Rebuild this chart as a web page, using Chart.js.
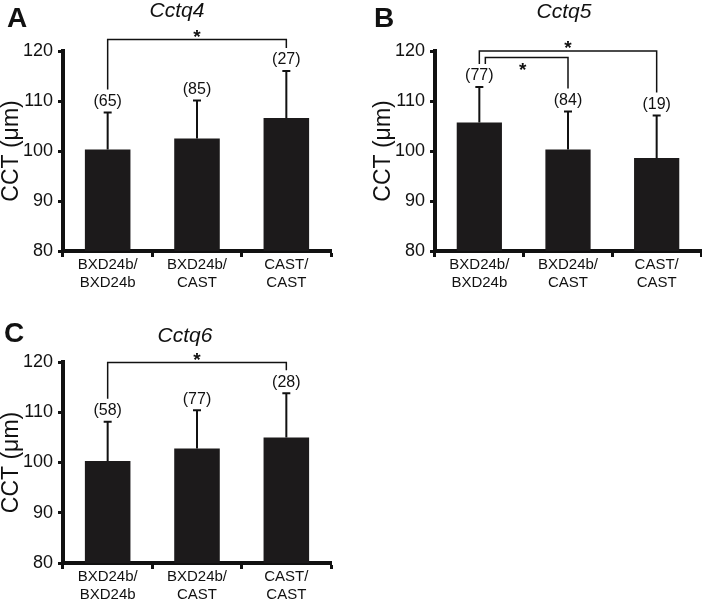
<!DOCTYPE html>
<html lang="en">
<head>
  <meta charset="UTF-8">
  <title>Cctq4 / Cctq5 / Cctq6 - CCT</title>
  <script src="https://cdn.jsdelivr.net/npm/chart.js"></script>
  <style>
    body {
      margin: 0;
      background-color: #fff;
    }

    .panel {
      position: absolute;
      width: 351px;
      height: 300px;
    }
  </style>
</head>
<body>

  <canvas id="chartA" class="panel" width="351" height="300" style="left:0;top:0"></canvas>
  <canvas id="chartB" class="panel" width="351" height="300" style="left:351px;top:0"></canvas>
  <canvas id="chartC" class="panel" width="351" height="300" style="left:0;top:300px"></canvas>

  <script>
    // genotype groups (x axis) and y ticks
    var categories = [['BXD24b/', 'BXD24b'], ['BXD24b/', 'CAST'], ['CAST/', 'CAST']];
    var yTicks = [80, 90, 100, 110, 120];

    // Cctq4
    var cctq4Means = [100.3, 102.5, 106.6];
    var cctq4SD = [7.4, 7.6, 9.4];
    var cctq4N = [65, 85, 27];
    var cctq4Sig = [[0, 2, 122.3]];

    // Cctq5
    var cctq5Means = [105.7, 100.3, 98.6];
    var cctq5SD = [7.1, 7.6, 8.5];
    var cctq5N = [77, 84, 19];
    var cctq5Sig = [[0, 2, 120.0], [0, 1, 118.7]];

    // Cctq6
    var cctq6Means = [100.3, 102.8, 105.0];
    var cctq6SD = [7.8, 7.6, 8.8];
    var cctq6N = [58, 77, 28];
    var cctq6Sig = [[0, 2, 119.9]];

    var FONT = "'Liberation Sans', Arial, sans-serif";
    var INK = '#111';

    // error bars, sample sizes, brackets, titles, panel letters
    var extrasPlugin = {
      id: 'extras',
      afterDatasetsDraw: function(chart, args, opts) {
        var ctx = chart.ctx;
        var y = chart.scales.y;
        var bars = chart.getDatasetMeta(0).data;
        var labelY = [];

        ctx.save();
        ctx.strokeStyle = INK;
        ctx.fillStyle = INK;

        bars.forEach(function(bar, i) {
          var top = y.getPixelForValue(opts.means[i] + opts.sd[i]);
          ctx.lineWidth = 2;
          ctx.beginPath();
          ctx.moveTo(bar.x, bar.y);
          ctx.lineTo(bar.x, top);
          ctx.moveTo(bar.x - 4, top);
          ctx.lineTo(bar.x + 4, top);
          ctx.stroke();

          labelY[i] = top - 11;
          ctx.font = '16px ' + FONT;
          ctx.textAlign = 'center';
          ctx.textBaseline = 'middle';
          ctx.fillText('(' + opts.n[i] + ')', bar.x, labelY[i]);
        });

        // significance brackets
        opts.sig.forEach(function(s, k) {
          var xa = bars[s[0]].x + (k === 1 ? 6 : 0);
          var xb = bars[s[1]].x;
          var yb = y.getPixelForValue(s[2]);
          ctx.lineWidth = 1.5;
          ctx.beginPath();
          ctx.moveTo(xa, labelY[s[0]] - 12);
          ctx.lineTo(xa, yb);
          ctx.lineTo(xb, yb);
          ctx.lineTo(xb, labelY[s[1]] - 12);
          ctx.stroke();

          var starY = k === 1 ? yb + 8 : yb - 7.5;
          ctx.font = 'bold 19px ' + FONT;
          ctx.textAlign = 'center';
          ctx.textBaseline = 'alphabetic';
          ctx.fillText('*', (xa + xb) / 2 - (k === 1 ? 4 : 0), starY + 10.8);
        });

        ctx.textAlign = 'left';
        ctx.textBaseline = 'alphabetic';
        ctx.font = 'bold 28px ' + FONT;
        ctx.fillText(opts.letter, opts.letterX, opts.letterY);

        ctx.textAlign = 'center';
        ctx.font = 'italic 21px ' + FONT;
        ctx.fillText(opts.title, opts.titleX, opts.titleY);
        ctx.restore();
      }
    };

    function makeChart(id, means, sd, n, sig, box, extras) {
      var ctx = document.getElementById(id).getContext('2d');
      extras.means = means;
      extras.sd = sd;
      extras.n = n;
      extras.sig = sig;

      return new Chart(ctx, {
        type: 'bar',
        data: {
          labels: categories,
          datasets: [{
            data: means,
            backgroundColor: '#1c1a1b',
            borderWidth: 0,
            barPercentage: 0.51,
            categoryPercentage: 1
          }]
        },
        options: {
          responsive: false,
          animation: false,
          devicePixelRatio: 1,
          layout: {
            padding: { left: box.padLeft, right: box.padRight, top: box.top, bottom: 0 }
          },
          plugins: {
            legend: { display: false },
            tooltip: { enabled: false },
            extras: extras
          },
          scales: {
            x: {
              afterFit: function(scale) { scale.height = box.xHeight; },
              grid: {
                display: true,
                drawOnChartArea: false,
                tickLength: 6,
                tickWidth: 3,
                tickColor: INK
              },
              border: { display: true, width: 4, color: INK },
              ticks: {
                color: INK,
                padding: -1,
                font: { family: FONT, size: 15, lineHeight: 1.18 },
                maxRotation: 0
              }
            },
            y: {
              min: yTicks[0],
              max: yTicks[yTicks.length - 1],
              afterFit: function(scale) { scale.width = box.yWidth; },
              grid: {
                display: true,
                drawOnChartArea: false,
                tickLength: 5,
                tickWidth: 3,
                tickColor: INK
              },
              border: { display: true, width: 4, color: INK },
              ticks: {
                stepSize: yTicks[1] - yTicks[0],
                color: INK,
                padding: 5,
                font: { family: FONT, size: 18 }
              },
              title: {
                display: true,
                text: 'CCT (\u03bcm)',
                color: INK,
                padding: 0,
                font: { family: FONT, size: 23, lineHeight: 1 }
              }
            }
          }
        },
        plugins: [extrasPlugin]
      });
    }

    makeChart('chartA', cctq4Means, cctq4SD, cctq4N, cctq4Sig,
      { padLeft: 0, padRight: 20, top: 51, yWidth: 63, xHeight: 49 },
      { letter: 'A', letterX: 7, letterY: 27, title: 'Cctq4', titleX: 177, titleY: 17 });

    makeChart('chartB', cctq5Means, cctq5SD, cctq5N, cctq5Sig,
      { padLeft: 21, padRight: 1, top: 51, yWidth: 63, xHeight: 49 },
      { letter: 'B', letterX: 23, letterY: 27, title: 'Cctq5', titleX: 213, titleY: 18 });

    makeChart('chartC', cctq6Means, cctq6SD, cctq6N, cctq6Sig,
      { padLeft: 0, padRight: 20, top: 62, yWidth: 63, xHeight: 37 },
      { letter: 'C', letterX: 4, letterY: 42, title: 'Cctq6', titleX: 185, titleY: 42 });
  </script>

</body>
</html>
